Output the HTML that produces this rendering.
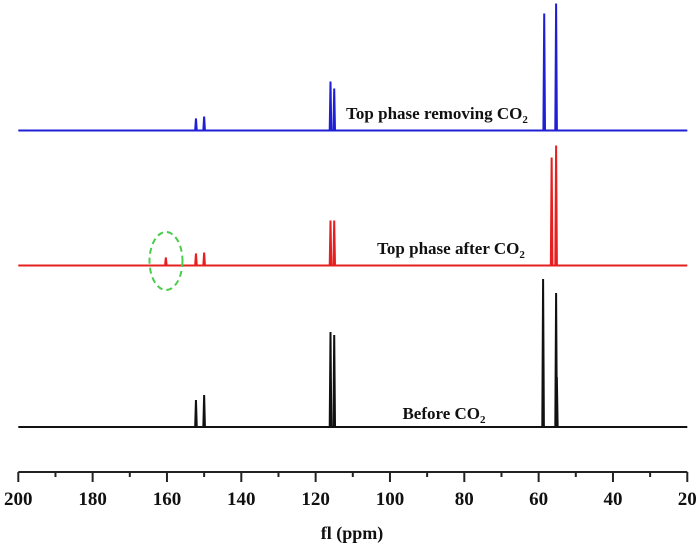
<!DOCTYPE html>
<html><head><meta charset="utf-8"><style>
html,body{margin:0;padding:0;background:#fff;}
svg{display:block;}
text{font-family:"Liberation Serif",serif;font-weight:bold;fill:#111;}
</style></head><body>
<svg id="chart" width="700" height="551" viewBox="0 0 700 551">
<g id="spectra"></g>
<ellipse cx="166" cy="261" rx="16.5" ry="29" fill="none" stroke="#4ccc4c" stroke-width="2" stroke-dasharray="6,4"/>
<text x="437" y="119" font-size="17" text-anchor="middle">Top phase removing CO<tspan font-size="11" dy="4">2</tspan></text>
<text x="451" y="254" font-size="17" text-anchor="middle">Top phase after CO<tspan font-size="11" dy="4">2</tspan></text>
<text x="444" y="419" font-size="17" text-anchor="middle">Before CO<tspan font-size="11" dy="4">2</tspan></text>
<g id="axis"></g>
<text x="352" y="539" font-size="18" text-anchor="middle">fl (ppm)</text>
</svg>
<script>
const xTicks = [200,180,160,140,120,100,80,60,40,20];
const blueShifts = [152.2,150.0,116.0,115.0,58.5,55.3];
const blueHeights = [12,14,49,42,117,127];
const redShifts = [160.3,152.2,150.0,116.0,115.0,56.5,55.3];
const redHeights = [8,12,13,45,45,108,120];
const blackShifts = [152.2,150.0,116.0,115.0,58.8,55.3,55.1];
const blackHeights = [27,32,95,92,148,134,50];

const NS='http://www.w3.org/2000/svg';
const x0=18.3, x1=687.3, pMax=200, pMin=20;
function xs(p){return x0+(pMax-p)*(x1-x0)/(pMax-pMin);}
const spectra=document.getElementById('spectra');
function drawSpec(name,color,base,shifts,heights){
  const peaks=shifts.map((s,i)=>({x:xs(s),h:heights[i]})).sort((a,b)=>a.x-b.x);
  let d='M'+xs(pMax)+' '+base;
  peaks.forEach(pk=>{d+=' L'+(pk.x-0.8)+' '+base+' L'+pk.x+' '+(base-pk.h)+' L'+(pk.x+0.8)+' '+base;});
  d+=' L'+xs(pMin)+' '+base;
  const p=document.createElementNS(NS,'path');
  p.setAttribute('d',d);p.setAttribute('fill','none');p.setAttribute('stroke',color);
  p.setAttribute('stroke-width','2');p.setAttribute('stroke-linejoin','miter');
  
  
  spectra.appendChild(p);
}
drawSpec('spectrum-top-phase-removing','#1f1fd6',130.5,blueShifts,blueHeights);
drawSpec('spectrum-top-phase-after','#e62020',265.5,redShifts,redHeights);
drawSpec('spectrum-before','#111',427,blackShifts,blackHeights);

const axis=document.getElementById('axis');
const ay=472;
const line=document.createElementNS(NS,'line');
line.setAttribute('x1',x0);line.setAttribute('x2',x1);line.setAttribute('y1',ay);line.setAttribute('y2',ay);
line.setAttribute('stroke','#222');line.setAttribute('stroke-width','2');


axis.appendChild(line);
for(let v=pMax; v>=pMin; v-=10){
  const major=(v%20===0);
  const t=document.createElementNS(NS,'line');
  t.setAttribute('x1',xs(v));t.setAttribute('x2',xs(v));t.setAttribute('y1',ay);t.setAttribute('y2',ay+(major?10:5));
  t.setAttribute('stroke','#222');t.setAttribute('stroke-width','2');
  
  
  axis.appendChild(t);
}
xTicks.forEach(v=>{
  const tx=document.createElementNS(NS,'text');
  tx.setAttribute('x',xs(v));tx.setAttribute('y',505);tx.setAttribute('font-size','19');
  tx.setAttribute('text-anchor','middle');tx.textContent=v;
  
  
  axis.appendChild(tx);
});
</script>
</body></html>
